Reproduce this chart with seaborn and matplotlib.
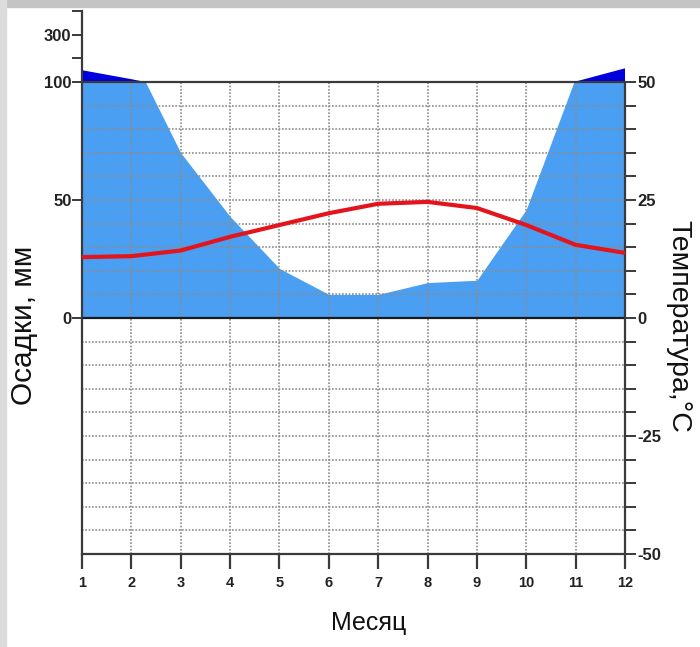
import numpy as np
import matplotlib
matplotlib.use("Agg")
import matplotlib.pyplot as plt
import seaborn as sns
from matplotlib.patches import Rectangle

# --- Data ---
months = [1, 2, 3, 4, 5, 6, 7, 8, 9, 10, 11, 12]
precip_mm = [150, 112, 70, 43, 21, 10, 10, 15, 16, 46, 102, 158]
temp_c = [12.9, 13.1, 14.3, 17.2, 19.7, 22.2, 24.2, 24.6, 23.3, 19.7, 15.5, 13.8]

precip_ticks = [0, 50, 100, 200, 300, 400]
precip_ticklabels = ['0', '50', '100', '', '300', '']
temp_ticks = list(range(-50, 51, 5))
temp_ticklabels = [str(t) if t % 25 == 0 else '' for t in temp_ticks]

# --- Style ---
sns.set_theme(style="white")
plt.rcParams['font.family'] = ['Liberation Sans', 'DejaVu Sans']

LIGHT_BLUE = '#4a9ff3'
DARK_BLUE = '#0000dd'
RED = '#e3141c'
GRID = '#8c8c8c'
AXIS = '#3a3a3a'


def fwd(p):
    p = np.asarray(p, dtype=float)
    return np.where(p <= 100, p, 100 + (p - 100) / 10.0)


def inv(t):
    t = np.asarray(t, dtype=float)
    return np.where(t <= 100, t, 100 + (t - 100) * 10.0)


fig = plt.figure(figsize=(7.0, 6.47), dpi=100)
ax = fig.add_axes([82 / 700, 93 / 647, 543 / 700, 542.8 / 647])
ax.set_yscale('function', functions=(fwd, inv))
ax.set_xlim(1, 12)
ax.set_ylim(-100, 400)

p = np.array(precip_mm, dtype=float)
m = np.array(months, dtype=float)

# humid season: full light-blue band, dry gap cut out in white
ax.fill_between(m, 0, 100, color=LIGHT_BLUE, lw=0, zorder=1)
ax.fill_between(m, p, 100, where=p < 100, interpolate=True,
                color='white', lw=0, zorder=1.1)
# very wet part (>100 mm) on a 1:10 reduced scale
ax.fill_between(m, 100, p, where=p > 100, interpolate=True,
                color=DARK_BLUE, lw=0, zorder=1.2)

# dotted grid
ls = (0, (1.0, 1.0))
ax.hlines([v for v in range(-90, 100, 10) if v != 0], 1, 12,
          colors=GRID, linestyles=ls, lw=1.2, zorder=2)
ax.vlines(months[1:-1], -100, 100, colors=GRID, linestyles=ls, lw=1.2, zorder=2)
ax.axhline(0, color='#1a1a1a', lw=1.6, zorder=2.5)
ax.axhline(100, color=AXIS, lw=1.6, zorder=2.5)

ax.set_yticks(precip_ticks)
ax.set_yticklabels(precip_ticklabels)
ax.minorticks_off()
ax.set_xticks(months)
ax.set_xticklabels([str(v) for v in months])

for side in ['top', 'right']:
    ax.spines[side].set_visible(False)
for side in ['left', 'bottom']:
    ax.spines[side].set_color(AXIS)
    ax.spines[side].set_linewidth(1.6)

ax.tick_params(axis='y', left=True, direction='out', length=7, width=1.4,
               color=AXIS, pad=0.5, labelsize=12, labelcolor='#222222')
ax.tick_params(axis='x', bottom=True, direction='out', length=11, width=1.6,
               color=AXIS, pad=5, labelsize=10.5, labelcolor='#222222')
for lab in ax.get_xticklabels() + ax.get_yticklabels():
    lab.set_fontweight('bold')

# temperature on the right axis (1 °C = 2 mm)
ax2 = ax.twinx()
ax2.set_ylim(-50, 65)
sns.lineplot(x=months, y=temp_c, ax=ax2, color=RED, lw=3, zorder=5)
ax2.set_yticks(temp_ticks)
ax2.set_yticklabels(temp_ticklabels)
for side in ['top', 'left', 'bottom']:
    ax2.spines[side].set_visible(False)
ax2.spines['right'].set_bounds(-50, 50)
ax2.spines['right'].set_color(AXIS)
ax2.spines['right'].set_linewidth(1.6)
ax2.tick_params(axis='y', right=True, direction='out', length=8, width=1.4,
                color=AXIS, pad=1, labelsize=12, labelcolor='#222222')
for lab in ax2.get_yticklabels():
    lab.set_fontweight('bold')
ax2.set_ylabel('')

# axis titles
fig.text(24 / 700, 1 - 325 / 647, 'Осадки, мм', rotation=90,
         ha='center', va='center', fontsize=21.5, color='#111111')
fig.text(678 / 700, 1 - 326 / 647, 'Температура,°C', rotation=270,
         ha='center', va='center', fontsize=20.5, color='#111111')
fig.text(369 / 700, 1 - 623 / 647, 'Месяц', ha='center', va='center',
         fontsize=18, color='#111111')

# screenshot border
fig.patches.append(Rectangle((0, 1 - 7 / 647), 1, 7 / 647, transform=fig.transFigure,
                             color='#c4c4c4', zorder=0))
fig.patches.append(Rectangle((0, 0), 6 / 700, 1, transform=fig.transFigure,
                             color='#dcdcdc', zorder=0))

fig.savefig('out.png', dpi=100)
